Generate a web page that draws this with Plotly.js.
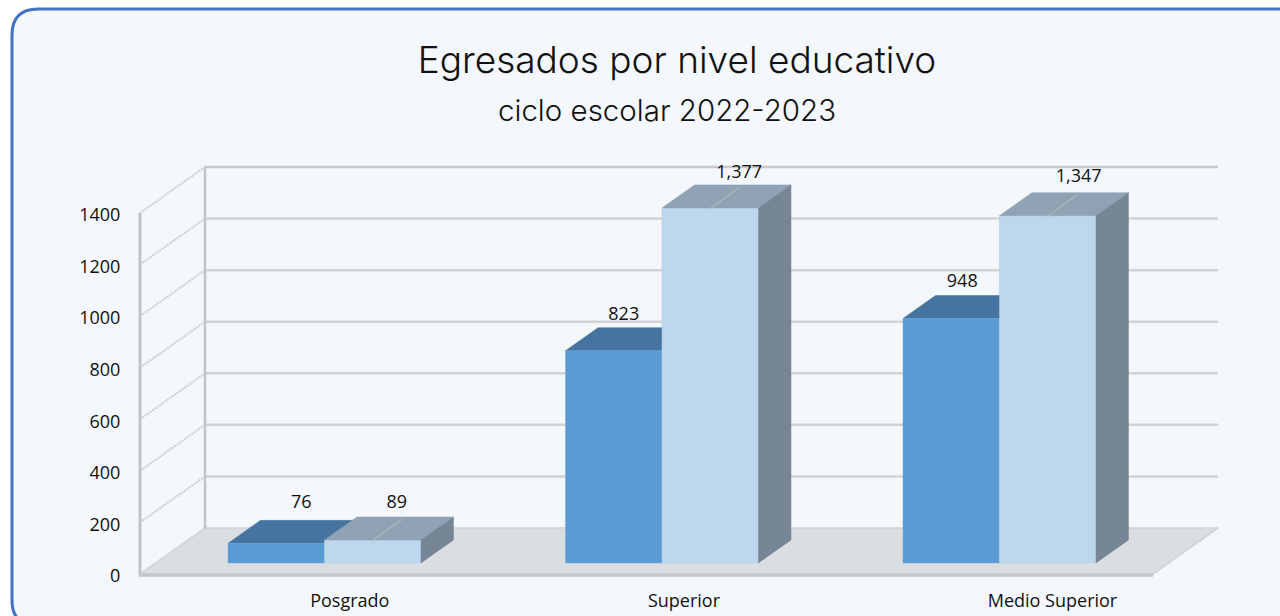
<!DOCTYPE html>
<html><head><meta charset="utf-8">
<script src="https://cdn.plot.ly/plotly-3.0.1.min.js"></script>
<style>html,body{margin:0;padding:0;background:#fff;overflow:hidden}#chart{width:1280px;height:616px}</style>
</head><body><div id="chart"></div>
<script>
const categories = ['Posgrado','Superior','Medio Superior'];
const seriesA = [76, 823, 948];
const seriesB = [89, 1377, 1347];
const yTicks = [0,200,400,600,800,1000,1200,1400];

// style / geometry
const W=1280,H=616, plotL=130, plotR=1230, plotT=150, plotB=580, zeroPx=574;
const pxPerCat=337.5, cat0Px=324.5, pxPerUnit=361/1400;
const xRange=[(plotL-cat0Px)/pxPerCat,(plotR-cat0Px)/pxPerCat];
const yRange=[(zeroPx-plotB)/pxPerUnit,(zeroPx-plotT)/pxPerUnit];
const depthX=65/pxPerCat, depthY=46/pxPerUnit;
const barW=96.5/pxPerCat;
const barD0=0.24, barD=0.5;
const wallLeft=(140-cat0Px)/pxPerCat, wallRight=(1153-cat0Px)/pxPerCat;
const cx=[0,1,2];
const base=barD0*depthY;
const P=(x,y,d)=>[x+d*depthX,y+d*depthY];
const GRID='#d2d3d5', GRIDTOP='#c8c9cb', WALL='#c2c3c5', DIAG='#cdcecf';
const C={aFront:'#5b9bd5',bFront:'#bdd7ee',aTop:'#44749f',bTop:'#8fa3b5',bSide:'#768696',floor:'#dbdee1',floorEdge:'#c3c5c6'};
const labelFont={family:'Open Sans, sans-serif',size:18,color:'#111'};

function poly(pts,color,axes){
  return {type:'scatter',mode:'lines',x:pts.map(p=>p[0]).concat(pts[0][0]),y:pts.map(p=>p[1]).concat(pts[0][1]),
    fill:'toself',fillcolor:color,line:{color:color,width:0.5},hoverinfo:'skip',showlegend:false,xaxis:axes[0],yaxis:axes[1]};
}
function seg(a,b,color,width,axes,dash){
  return {type:'scatter',mode:'lines',x:[a[0],b[0]],y:[a[1],b[1]],line:{color:color,width:width,dash:dash||'solid'},
    hoverinfo:'skip',showlegend:false,cliponaxis:false,xaxis:axes[0],yaxis:axes[1]};
}
const lo=['x','y'], hi=['x2','y2'];
const traces=[];
// floor
traces.push(poly([P(wallLeft,0,0),P(wallLeft,0,1),P(wallRight,0,1),P(wallRight,0,0)],C.floor,lo));
// back wall grid + side wall diagonals
yTicks.forEach(v=>{
  if(v>0) traces.push(seg(P(wallLeft,v,1),P(wallRight,v,1),v===1400?GRIDTOP:GRID,2.5,lo));
  traces.push(seg(P(wallLeft,v,0),P(wallLeft,v,1),DIAG,2,lo,'2px,1px'));
});
traces.push(seg(P(wallRight,0,0),P(wallRight,0,1),DIAG,2,lo,'2px,1px'));
traces.push(seg(P(wallLeft,0,1),P(wallRight,0,1),'#d0d2d4',1.5,lo));
traces.push(seg(P(wallLeft,0,1),P(wallLeft,yTicks[7],1),WALL,2.5,lo));
traces.push(seg(P(wallLeft,0,0),P(wallLeft,yTicks[7],0),WALL,3,lo));
traces.push(seg(P(wallLeft-0.004,-4,0),P(wallRight,-4,0),C.floorEdge,3.5,lo));
// series A tops (behind the front faces)
cx.forEach((c,i)=>{
  const y=base+seriesA[i], l=c-barW, r=c;
  traces.push(poly([[l,y],P(l,y,barD),P(r,y,barD),[r,y]],C.aTop,lo));
});
// front faces as real bars
traces.push({type:'bar',x:cx,y:seriesA,base:base,width:barW,offset:-barW,marker:{color:C.aFront,line:{color:'#6fa6da',width:0.5}},
  hoverinfo:'skip',showlegend:false,xaxis:'x2',yaxis:'y2'});
traces.push({type:'bar',x:cx,y:seriesB,base:base,width:barW,offset:0,marker:{color:C.bFront,line:{color:'#b0cbe4',width:0.5}},
  hoverinfo:'skip',showlegend:false,xaxis:'x2',yaxis:'y2'});
// series B top + side
cx.forEach((c,i)=>{
  const y=base+seriesB[i], l=c, r=c+barW;
  traces.push(poly([[l,y],P(l,y,barD),P(r,y,barD),[r,y]],C.bTop,hi));
  traces.push(poly([[r,base],P(r,base,barD),P(r,y,barD),[r,y]],C.bSide,hi));
  // leader line
  const m=c+barW/2;
  traces.push(seg([m,y-2],P(m,y,barD*0.9),'#b4b5b6',1.2,hi));
});
// value labels
const labelDx=[[25,10,11],[24,29,31]];                // px right of the bar pair/bar centre
const labelDy=[[17,12,13],[14,11,15]];                // px above the rear top edge
function labels(vals,centerShift,dxs,dys){
  return {type:'scatter',mode:'text',
    x:cx.map((c,i)=>c+centerShift+dxs[i]/pxPerCat),
    y:vals.map((v,i)=>base+v+barD*depthY+dys[i]/pxPerUnit),
    text:vals.map(v=>v.toLocaleString('en-US')),textposition:'middle center',textfont:labelFont,
    hoverinfo:'skip',showlegend:false,xaxis:'x2',yaxis:'y2',cliponaxis:false};
}
traces.push(labels(seriesA,-barW/2,labelDx[0],labelDy[0]));
traces.push(labels(seriesB,barW/2,labelDx[1],labelDy[1]));

const px=x=>x/W, py=y=>1-y/H;
const cardL=12,cardT=9,cardR=1310,cardB=626,rad=26;
const cardPath=`M ${px(cardL)} ${py(cardT+rad)} Q ${px(cardL)} ${py(cardT)} ${px(cardL+rad)} ${py(cardT)} L ${px(cardR)} ${py(cardT)} L ${px(cardR)} ${py(cardB)} L ${px(cardL+rad)} ${py(cardB)} Q ${px(cardL)} ${py(cardB)} ${px(cardL)} ${py(cardB-rad)} Z`;

const layout={
  width:W,height:H,margin:{l:0,r:0,t:0,b:0},paper_bgcolor:'#ffffff',plot_bgcolor:'rgba(0,0,0,0)',
  barmode:'overlay',showlegend:false,
  title:{text:'Egresados por nivel educativo',x:677/W,xanchor:'center',y:1-60/H,yanchor:'middle',yref:'container',
    font:{family:'Inter, sans-serif',size:37,weight:300,color:'#111'}},
  xaxis:{domain:[px(plotL),px(plotR)],range:xRange,tickmode:'array',
    tickvals:[0.075,1.065,2.157],ticktext:categories,ticks:'outside',ticklen:4,tickcolor:'rgba(0,0,0,0)',
    showgrid:false,zeroline:false,showline:false,tickfont:{family:'Open Sans, sans-serif',size:18,color:'#111'}},
  yaxis:{domain:[1-plotB/H,1-plotT/H],range:yRange,tickmode:'array',tickvals:yTicks,ticks:'outside',ticklen:5,tickcolor:'rgba(0,0,0,0)',ticklabelshift:2,
    showgrid:false,zeroline:false,showline:false,tickfont:{family:'Open Sans, sans-serif',size:18,color:'#111'}},
  xaxis2:{domain:[px(plotL),px(plotR)],range:xRange,overlaying:'x',visible:false,anchor:'y2'},
  yaxis2:{domain:[1-plotB/H,1-plotT/H],range:yRange,overlaying:'y',visible:false,anchor:'x2'},
  shapes:[{type:'path',xref:'paper',yref:'paper',path:cardPath,fillcolor:'#f4f7fc',line:{color:'#4472c4',width:3},layer:'below'}],
  annotations:[{text:'ciclo escolar 2022-2023',xref:'paper',yref:'paper',x:667/W,y:py(110),xanchor:'center',yanchor:'middle',showarrow:false,
    font:{family:'Inter, sans-serif',size:29.5,weight:300,color:'#111'}}]
};
Plotly.newPlot('chart',traces,layout,{displayModeBar:false,responsive:false});
</script></body></html>
